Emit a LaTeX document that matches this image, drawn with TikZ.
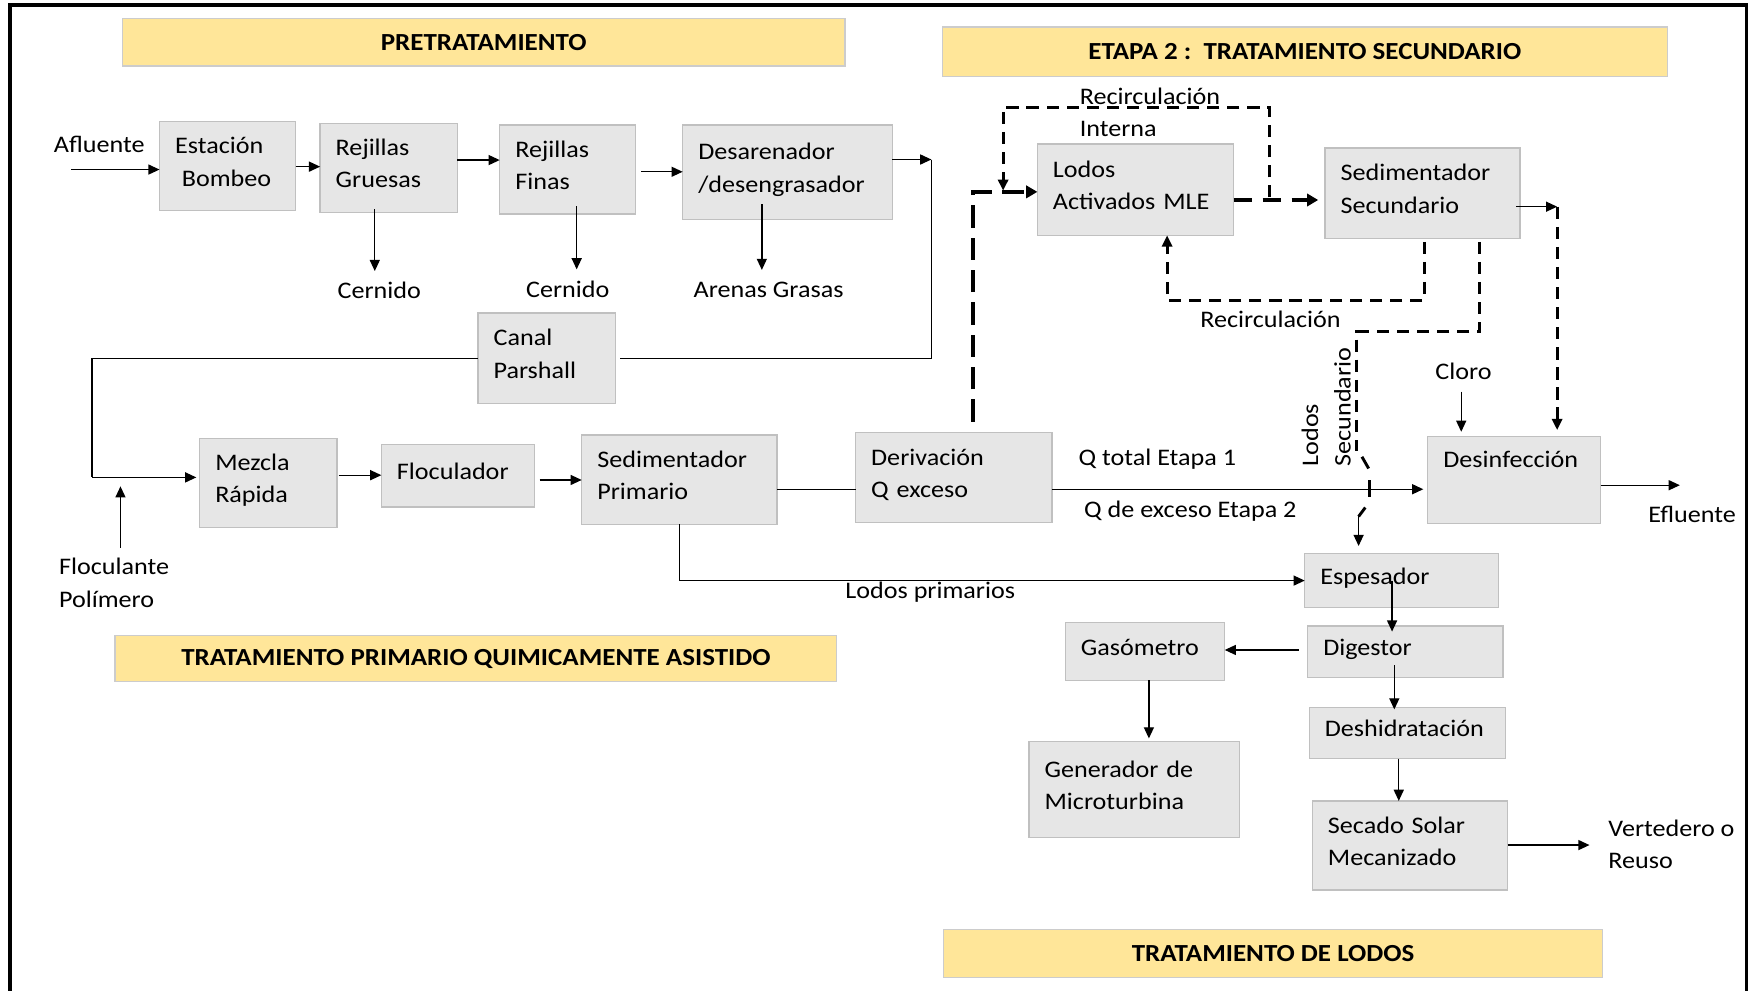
\documentclass[tikz,border=0pt]{standalone}
\usepackage{fontspec}
\setmainfont{Carlito}[FakeStretch=1.1]
\usetikzlibrary{arrows.meta}
\definecolor{boxfill}{HTML}{E6E6E6}
\definecolor{boxline}{HTML}{C0C0C0}
\definecolor{banfill}{HTML}{FFE699}
\definecolor{banline}{HTML}{CCCCCC}
\begin{document}
\begin{tikzpicture}[x=1pt,y=-1pt,
  font=\fontsize{21.3}{29}\selectfont,
  box/.style={draw=boxline, fill=boxfill, line width=1.2pt, inner xsep=14pt, inner ysep=0pt, outer sep=0pt, align=left, execute at end node={\rule[-8pt]{0pt}{1pt}}},
  ban/.style={draw=banline, fill=banfill, line width=1.2pt, inner sep=0pt, outer sep=0pt, font=\fontsize{22}{29}\selectfont\bfseries},
  lbl/.style={inner sep=0pt, outer sep=0pt, text height=14pt, text depth=4pt},
  mlbl/.style={inner sep=0pt, outer sep=0pt, align=left},
  headA/.style={-{Triangle[length=10pt,width=9pt]}},
  headB/.style={-{Triangle[length=10pt,width=11pt]}},
  ln/.style={line width=1.2pt, line join=miter},
  conn/.style={ln, headA},
  dsh/.style={line width=2.6pt, dash pattern=on 11pt off 7pt},
  tdsh/.style={line width=3.6pt, dash pattern=on 20pt off 9pt},
  jump/.style={line width=2.6pt}
]
\useasboundingbox (0,0) rectangle (1568,888);
% frame
\draw[line width=3pt] (9,890) -- (9,4.5) -- (1566,4.5) -- (1566,890);

% banners
\node[ban, minimum width=648pt, minimum height=43pt] (b1) at (433.6,37.8) {PRETRATAMIENTO};
\node[ban, minimum width=650pt, minimum height=44pt] (b2) at (1169.8,46.3) {ETAPA 2 :\ \ TRATAMIENTO SECUNDARIO};
\node[ban, minimum width=647pt, minimum height=41pt] (b3) at (426.7,590.5) {TRATAMIENTO PRIMARIO QUIMICAMENTE ASISTIDO};
\node[ban, minimum width=591pt, minimum height=43pt] (b4) at (1141.4,855) {TRATAMIENTO DE LODOS};

% boxes
\node[box, text width=94pt, minimum height=80pt] (est) at (204,149) {Estación\\\hspace*{6pt}Bombeo};
\node[box, text width=95pt, minimum height=80pt] (rgr) at (348.5,150.5) {Rejillas\\Gruesas};
\node[box, text width=94pt, minimum height=80pt] (rfi) at (509,152) {Rejillas\\Finas};
\node[box, text width=160pt, minimum height=85pt] (des) at (706,154.5) {Desarenador\\/desengrasador};
\node[box, text width=95pt, minimum height=81pt] (can) at (490,321) {Canal\\Parshall};
\node[box, text width=95pt, minimum height=80pt] (mez) at (240.5,433) {Mezcla\\Rápida};
\node[box, text width=109pt, minimum height=56pt] (flo) at (410.4,426.6) {Floculador};
\node[box, text width=147pt, minimum height=80pt] (sedp) at (609,430) {Sedimentador\\Primario};
\node[box, text width=148pt, minimum height=80.6pt] (der) at (855,428.3) {Derivación\\Q exceso};
\node[box, text width=148pt, minimum height=82pt] (mle) at (1018,170) {Lodos\\Activados MLE};
\node[box, text width=147pt, minimum height=81pt] (seds) at (1275.3,173.3) {Sedimentador\\Secundario};
\node[box, text width=127pt, minimum height=78pt] (dsf) at (1357.5,430.6) {Desinfección\\\mbox{}};
\node[box, text width=146pt, minimum height=48pt] (esp) at (1256.7,520.5) {Espesador};
\node[box, text width=115pt, minimum height=52pt] (gas) at (1026.5,584) {Gasómetro};
\node[box, text width=147pt, minimum height=46pt] (dig) at (1259.8,584.2) {Digestor};
\node[box, text width=148pt, minimum height=46pt] (deh) at (1261.7,657) {Deshidratación};
\node[box, text width=161pt, minimum height=86pt] (gen) at (1017,708) {Generador de\\Microturbina};
\node[box, text width=147pt, minimum height=80pt] (sec) at (1264,758) {Secado Solar\\Mecanizado};

% free labels
\node[lbl] (afl) at (89,132) {Afluente};
\node[lbl] (cer1) at (340,263) {Cernido};
\node[lbl] (cer2) at (509,261.5) {Cernido};
\node[lbl] (are) at (689,262) {Arenas Grasas};
\node[mlbl, anchor=west] (floc) at (53,522.5) {Floculante\\Polímero};
\node[lbl] (lpr) at (834,532) {Lodos primarios};
\node[lbl, anchor=west] (qt) at (967,412) {Q total Etapa 1};
\node[lbl, anchor=west] (qe) at (972,459) {Q de exceso Etapa 2};
\node[mlbl, anchor=west] (ri) at (968,101) {Recirculación\\Interna};
\node[lbl] (rec) at (1139,288.5) {Recirculación};
\node[lbl] (clo) at (1312,335) {Cloro};
\node[lbl] (efl) at (1517,463) {Efluente};
\node[mlbl, anchor=west] (ver) at (1442,757) {Vertedero o\\Reuso};
\node[mlbl, rotate=90, anchor=north west] (lsec) at (1167,418) {Lodos\\Secundario};

% coordinates for free ends and corners
\coordinate (aflin) at (64,152);
\coordinate (dc1) at (835,143);
\coordinate (dc2) at (835,321.5);
\coordinate (lc1) at (82.5,321.5);
\coordinate (lc2) at (82.5,428);
\coordinate (flin) at (108,491);
\coordinate (flout) at (108,436);
\coordinate (eflout) at (1506,435);
\coordinate (sdc) at (1396,185.3);
\coordinate (ria) at (1138.4,177);
\coordinate (rib) at (899.3,171);
\coordinate (lsa) at (1216.4,404);

% pretreatment line
\draw[conn] (aflin) -- (est.west |- aflin);
\draw[conn] (est.east |- 0,149.4) -- (rgr.west |- 0,149.4);
\draw[conn] (rgr.east |- 0,143.5) -- (rfi.west |- 0,143.5);
\draw[conn, shorten <=4.8pt] (rfi.east |- 0,154) -- (des.west |- 0,154);
\draw[conn] (des.east |- dc1) -- (dc1);
\draw[ln, shorten >=4pt] (dc1) -- (dc2) -- (can.east |- dc2);
\draw[ln] (can.west |- lc1) -- (lc1) -- (lc2);
\draw[conn, shorten >=3pt] (lc2) -- (mez.west |- lc2);
\draw[conn, shorten >=11pt, shorten <=-3pt] (rgr.south -| 336,0) -- (cer1.north -| 336,0);
\draw[conn, shorten >=11pt, shorten <=-7pt] (rfi.south -| 517,0) -- (cer2.north -| 517,0);
\draw[conn, shorten >=11pt, shorten <=-14pt] (des.south -| 683,0) -- (are.north -| 683,0);

% primary line
\draw[conn] (flin) -- (flout);
\draw[conn, shorten <=1.5pt] (mez.east |- 0,426) -- (flo.west |- 0,426);
\draw[conn, shorten <=4.8pt] (flo.east |- 0,430.3) -- (sedp.west |- 0,430.3);
\draw[ln] (sedp.east |- 0,438.7) -- (der.west |- 0,438.7);
\draw[conn, shorten >=4pt] (der.east |- 0,438.6) -- (dsf.west |- 0,438.6);
\draw[conn] (sedp.south -| 609,0) |- (esp.west);

% secondary
\draw[tdsh, headB, shorten <=10pt] (der.north -| 872.4,0) |- (mle.west |- 0,172);
\draw[tdsh, headB, dash pattern=on 16pt off 10pt, shorten >=6pt] (mle.east |- 0,179.3) -- (seds.west |- 0,179.3);
\draw[dsh, headA] (ria) -- (ria |- 0,96.2) -| (rib);
\draw[dsh, headA, shorten <=3pt] (seds.south -| 1276.7,0) -- (1276.7,269) -| (mle.south -| 1046.3,0);
\draw[conn, shorten <=-3.5pt] (seds.east |- sdc) -- (sdc);
\draw[dsh, headA, shorten >=6pt] (sdc) -- (dsf.north -| sdc);
\draw[conn, shorten <=7pt, shorten >=4.5pt] (clo.south -| 1310,0) -- (dsf.north -| 1310,0);
\draw[conn] (dsf.east |- eflout) -- (eflout);

% secondary sludge with line jump
\draw[dsh, shorten <=3pt] (seds.south -| 1326.7,0) -- (1326.7,297.4) -| (lsa);
\draw[jump] (1221,409.5) -- (1227,420);
\draw[jump] (1228,430.5) -- (1228,445.5);
\draw[jump] (1224,455) -- (1218,463) coordinate (lsb);
\draw[conn, shorten >=7pt] (lsb) -- (esp.north -| lsb);

% sludge line
\draw[conn, shorten >=-5pt] (esp.center -| 1248,0) -- (dig.north -| 1248,0);
\draw[conn, shorten <=8pt] (dig.west |- 0,582.7) -- (gas.east |- 0,582.7);
\draw[conn, shorten >=3pt] (gas.south -| 1030,0) -- (gen.north -| 1030,0);
\draw[conn, shorten <=-11pt, shorten >=-2pt] (dig.south -| 1250,0) -- (deh.north -| 1250,0);
\draw[conn] (deh.south -| 1254,0) -- (sec.north -| 1254,0);
\draw[conn, shorten >=17pt] (sec.east |- 0,757.6) -- (ver.west |- 0,757.6);
\end{tikzpicture}
\end{document}
